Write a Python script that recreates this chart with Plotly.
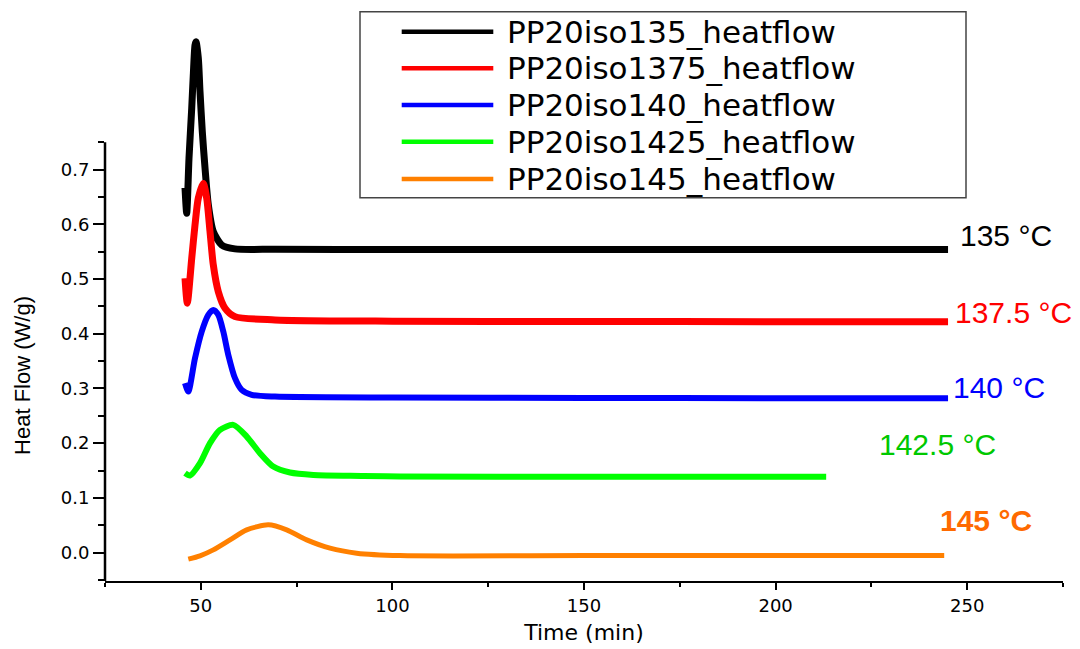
import plotly.graph_objects as go

# ---------------- data ----------------
names = ["PP20iso135_heatflow", "PP20iso1375_heatflow", "PP20iso140_heatflow",
         "PP20iso1425_heatflow", "PP20iso145_heatflow"]
colors = ["#000000", "#FF0000", "#0000FF", "#00FF00", "#FF8000"]
widths = [7, 7, 6, 6, 5]

x135 = [45.88, 46.32, 46.92, 47.63, 48.04, 48.49, 48.75, 49.35, 49.79, 50.39, 51.10, 51.96, 53.26,
        55.45, 58.92, 69.4, 100, 150, 200, 245]
y135 = [0.6667, 0.6205, 0.721, 0.8124, 0.8733, 0.928, 0.934, 0.904, 0.843, 0.770, 0.703, 0.636, 0.587,
        0.5625, 0.5552, 0.5545, 0.554, 0.554, 0.554, 0.554]

x1375 = [45.88, 46.48, 47.63, 48.49, 49.35, 50.65, 51.54, 52.40, 53.26, 54.57, 56.32, 58.92, 69.36,
         100, 150, 200, 245]
y1375 = [0.5016, 0.456, 0.538, 0.599, 0.648, 0.675, 0.648, 0.587, 0.526, 0.477, 0.4468, 0.4314, 0.4254,
         0.423, 0.4225, 0.422, 0.422]

x140 = [45.88, 46.74, 48.49, 50.24, 51.96, 53.26, 54.57, 55.87, 57.18, 58.92, 60.67, 63.28, 69.36,
        100, 150, 200, 245]
y140 = [0.3097, 0.2943, 0.3554, 0.404, 0.4346, 0.4437, 0.4346, 0.404, 0.3614, 0.3188, 0.2974, 0.2883, 0.2852,
        0.2835, 0.2828, 0.2823, 0.2823]

x1425 = [45.88, 47.18, 49.79, 52.40, 55.01, 58.48, 61.98, 65.45, 68.92, 73.28, 79.36, 92.41, 102.0,
         150, 213.2]
y1425 = [0.1452, 0.1408, 0.1634, 0.200, 0.2243, 0.2335, 0.2121, 0.1817, 0.1572, 0.1463, 0.142, 0.1402, 0.1389,
         0.1386, 0.1384]

x145 = [46.74, 49.79, 53.26, 57.62, 61.98, 67.62, 72.42, 77.64, 83.72, 90.68, 101.98, 150, 200, 244.0]
y145 = [-0.0121, -0.006, 0.0049, 0.0232, 0.0415, 0.0507, 0.0415, 0.0232, 0.008, -0.0011, -0.0055,
        -0.0055, -0.0055, -0.0055]

xs = [x135, x1375, x140, x1425, x145]
ys = [y135, y1375, y140, y1425, y145]

temp_labels = ["135 °C", "137.5 °C", "140 °C", "142.5 °C", "145 °C"]
label_colors = ["#000000", "#FF0000", "#0000FF", "#00C800", "#FF6A00"]
label_x = [247.6, 246.4, 245.9, 226.4, 242.5]
label_y = [0.579, 0.439, 0.3015, 0.197, 0.058]

y_ticks = [0.0, 0.1, 0.2, 0.3, 0.4, 0.5, 0.6, 0.7]
y_minor = [-0.05, 0.05, 0.15, 0.25, 0.35, 0.45, 0.55, 0.65, 0.75]
x_ticks = [50, 100, 150, 200, 250]
x_minor = [25, 75, 125, 175, 225, 275]

# ---------------- figure ----------------
W, H = 1080, 649
ML, MR, MT, MB = 105, 17, 10, 68
PW, PH = W - ML - MR, H - MT - MB


def px_x(p):
    return (p - ML) / PW


def px_y(p):
    return (H - MB - p) / PH


fig = go.Figure()
for n, c, w, x, y in zip(names, colors, widths, xs, ys):
    fig.add_trace(go.Scatter(x=x, y=y, mode="lines", name=n,
                             line=dict(color=c, width=w, shape="spline", smoothing=0.7),
                             showlegend=False))

tick_font = dict(family="DejaVu Sans", size=18, color="black")

fig.update_layout(
    width=W, height=H,
    margin=dict(l=ML, r=MR, t=MT, b=MB),
    paper_bgcolor="white", plot_bgcolor="white",
    showlegend=False,
    xaxis=dict(range=[25, 275], showgrid=False, zeroline=False, automargin=False,
               showline=True, linewidth=2, linecolor="black",
               tickmode="array", tickvals=x_ticks, ticks="outside", ticklen=7, tickwidth=2,
               tickcolor="black", tickfont=tick_font,
               minor=dict(tickvals=x_minor, ticks="outside", ticklen=4, tickwidth=2, tickcolor="black"),
               title=dict(text="Time (min)", font=dict(family="DejaVu Sans", size=22, color="black"),
                          standoff=10)),
    yaxis=dict(range=[-0.052, 0.992], showgrid=False, zeroline=False, showline=False, automargin=False,
               tickmode="array", tickvals=y_ticks, tickformat=".1f", ticks="outside",
               ticklen=11, tickwidth=2, tickcolor="black", tickfont=tick_font,
               minor=dict(tickvals=y_minor, ticks="outside", ticklen=6, tickwidth=2, tickcolor="black")),
)

# y axis line only up to 0.75
fig.add_shape(type="line", xref="paper", yref="y", x0=0, x1=0, y0=-0.052, y1=0.75,
              line=dict(color="black", width=2.5))

# y-axis title
fig.add_annotation(text="Heat Flow (W/g)", xref="paper", yref="y", x=px_x(23), y=0.323,
                   textangle=-90, showarrow=False, xanchor="center", yanchor="middle",
                   font=dict(family="Liberation Sans", size=22, color="black"))

# temperature labels
for t, c, lx, ly in zip(temp_labels, label_colors, label_x, label_y):
    txt = "<b>%s</b>" % t if t.startswith("145") else t
    fig.add_annotation(text=txt, x=lx, y=ly, xref="x", yref="y", showarrow=False,
                       xanchor="left", yanchor="middle",
                       font=dict(family="Liberation Sans", size=30, color=c))

# legend box (drawn manually to match the reference proportions)
fig.add_shape(type="rect", xref="paper", yref="paper",
              x0=px_x(360), x1=px_x(966), y0=px_y(197.7), y1=px_y(11.7),
              line=dict(color="#444444", width=1.5), fillcolor="white", layer="above")
row_y = [31.7, 68.3, 105, 141.7, 179]
for n, c, ry in zip(names, colors, row_y):
    fig.add_shape(type="line", xref="paper", yref="paper",
                  x0=px_x(401.7), x1=px_x(493.3), y0=px_y(ry), y1=px_y(ry),
                  line=dict(color=c, width=4.5))
    fig.add_annotation(text=n, xref="paper", yref="paper", x=px_x(505), y=px_y(ry),
                       showarrow=False, xanchor="left", yanchor="middle",
                       font=dict(family="DejaVu Sans", size=31, color="black"))

fig.write_html("out.html")
